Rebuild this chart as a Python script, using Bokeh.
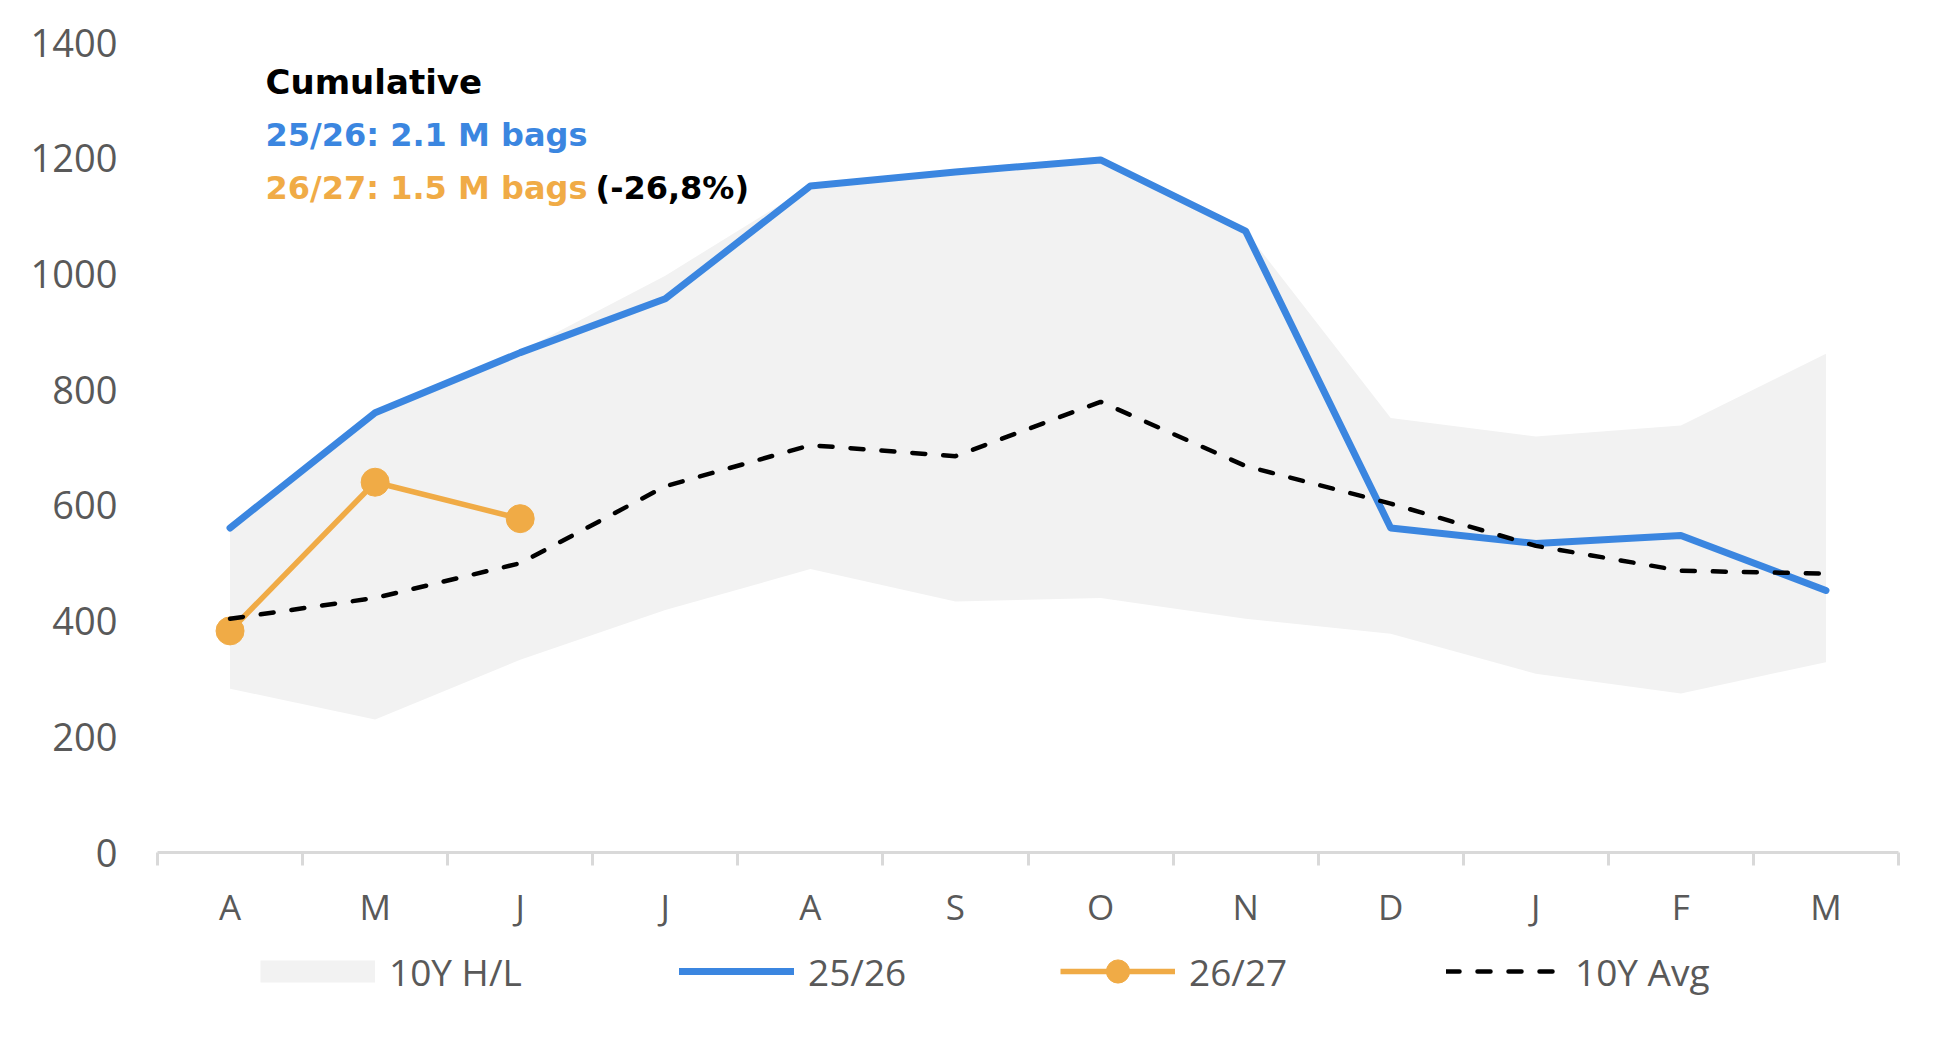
from bokeh.plotting import figure
from bokeh.layouts import column
from bokeh.models import Range1d, FixedTicker, CustomJSTickFormatter, Legend, LegendItem, Label
from bokeh.embed import file_html
from bokeh.resources import INLINE

# ---- data ----
months = ["A", "M", "J", "J", "A", "S", "O", "N", "D", "J", "F", "M"]
hl_low = [283, 230, 333, 419, 490, 434, 440, 404, 378, 309, 275, 329]
hl_high = [561, 760, 866, 997, 1152, 1176, 1197, 1074, 751, 719, 738, 862]
s2526 = [561, 760, 864, 957, 1152, 1176, 1197, 1074, 561, 534, 548, 453]
s2627 = [383, 640, 577]
avg10 = [404, 440, 500, 633, 704, 685, 779, 668, 603, 530, 487, 482]
y_ticks = [0, 200, 400, 600, 800, 1000, 1200, 1400]
legend_labels = ["10Y H/L", "25/26", "26/27", "10Y Avg"]

BLUE = "#3b86e0"
ORANGE = "#f0ab46"
BAND = "#f2f2f2"
GRAY_TXT = "#595959"
AXIS = "#d9d9d9"

xs = [i + 0.5 for i in range(len(months))]
xs27 = xs[:len(s2627)]
NAN = float("nan")

p = figure(width=1932, height=935,
           min_border_left=157, min_border_right=34, min_border_top=42, min_border_bottom=83,
           x_range=Range1d(0, len(months)), y_range=Range1d(0, 1400),
           output_backend="svg", toolbar_location=None)
p.outline_line_color = None
p.grid.visible = False
p.background_fill_color = "white"
p.border_fill_color = "white"

# y axis
p.yaxis.ticker = FixedTicker(ticks=y_ticks)
p.yaxis.axis_line_color = None
p.yaxis.major_tick_line_color = None
p.yaxis.minor_tick_line_color = None
p.yaxis.major_tick_out = 0
p.yaxis.major_tick_in = 0
p.yaxis.major_label_standoff = 40
p.yaxis.major_label_text_font = "Open Sans"
p.yaxis.major_label_text_font_size = "38px"
p.yaxis.major_label_text_color = GRAY_TXT

# x axis: labels at month centers, tick marks at boundaries
p.xaxis.ticker = FixedTicker(ticks=xs, minor_ticks=list(range(len(months) + 1)))
p.xaxis.formatter = CustomJSTickFormatter(args=dict(labels=months),
                                          code="return labels[Math.floor(tick)];")
p.xaxis.major_tick_line_color = None
p.xaxis.major_tick_out = 0
p.xaxis.major_tick_in = 0
p.xaxis.minor_tick_line_color = AXIS
p.xaxis.minor_tick_line_width = 3
p.xaxis.minor_tick_out = 13
p.xaxis.minor_tick_in = 0
p.xaxis.axis_line_color = AXIS
p.xaxis.axis_line_width = 3
p.xaxis.major_label_standoff = 17
p.xaxis.major_label_text_font = "Open Sans"
p.xaxis.major_label_text_font_size = "35px"
p.xaxis.major_label_text_color = GRAY_TXT

# renderers
band = p.varea(x=xs, y1=hl_low, y2=hl_high, fill_color=BAND)
blue = p.line(xs, s2526, line_color=BLUE, line_width=7, line_join="round", line_cap="round")
oline = p.line(xs27, s2627, line_color=ORANGE, line_width=5.5, line_join="round")
opts = p.scatter(xs27, s2627, size=28, fill_color=ORANGE, line_color=ORANGE)
avg = p.line(xs, avg10, line_color="black", line_width=4.5, line_dash="13 18", line_cap="round")

# annotation block
ann = [("Cumulative", "black", 108, 771, "34px"),
       ("25/26: 2.1 M bags", BLUE, 108, 718, "32px"),
       ("26/27: 1.5 M bags", ORANGE, 108, 665, "32px"),
       ("(-26,8%)", "black", 438, 665, "32px")]
for txt, col, ax, ay, fs in ann:
    p.add_layout(Label(x=ax, y=ay, x_units="screen", y_units="screen", text=txt,
                       text_color=col, text_font="DejaVu Sans", text_font_size=fs,
                       text_font_style="bold", text_baseline="alphabetic", text_align="left"))

# ---- legend strip (separate figure below the chart; legend-only key glyphs) ----
lf = figure(width=1932, height=85, min_border=0, x_range=Range1d(0, 1), y_range=Range1d(0, 1),
            x_axis_type=None, y_axis_type=None, output_backend="svg", toolbar_location=None)
lf.outline_line_color = None
lf.grid.visible = False
k_band = lf.line(x=[NAN], y=[NAN], line_color=BAND, line_width=22)
k_blue = lf.line(x=[NAN], y=[NAN], line_color=BLUE, line_width=7, line_cap="round")
k_oline = lf.line(x=[NAN], y=[NAN], line_color=ORANGE, line_width=5.5)
k_opts = lf.scatter(x=[NAN], y=[NAN], fill_color=ORANGE, line_color=ORANGE)
k_avg = lf.line(x=[NAN], y=[NAN], line_color="black", line_width=4.5, line_dash="13 18", line_cap="round")

entries = [(legend_labels[0], [k_band], 103),
           (legend_labels[1], [k_blue], 522),
           (legend_labels[2], [k_oline, k_opts], 903),
           (legend_labels[3], [k_avg], 1289)]
for lab, rends, lx in entries:
    lg = Legend(items=[LegendItem(label=lab, renderers=rends)],
                location=(lx, 20), orientation="horizontal",
                glyph_width=115, glyph_height=58, label_standoff=14,
                padding=0, margin=0, border_line_color=None, background_fill_alpha=0,
                label_text_font="Open Sans", label_text_font_size="37px",
                label_text_color=GRAY_TXT)
    lf.add_layout(lg, "center")

layout = column(p, lf, spacing=0)
open("out.html", "w").write(file_html(layout, INLINE))
